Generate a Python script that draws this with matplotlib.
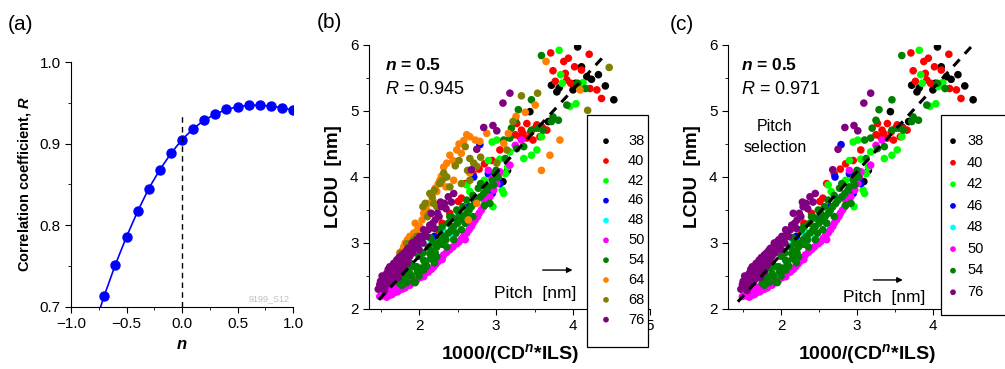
import numpy as np
import matplotlib
matplotlib.use('Agg')
from matplotlib import pyplot as plt
from matplotlib.ticker import MultipleLocator
from matplotlib.patches import Rectangle

plt.rcParams['font.family'] = ['Liberation Sans', 'DejaVu Sans']
plt.rcParams['mathtext.fontset'] = 'custom'
plt.rcParams['mathtext.rm'] = 'Liberation Sans:bold'
plt.rcParams['mathtext.it'] = 'Liberation Sans:italic:bold'
plt.rcParams['mathtext.bf'] = 'Liberation Sans:bold'
plt.rcParams['mathtext.cal'] = 'Liberation Sans:italic'

# ---- panel (a) data
n_vals = [-0.8, -0.7, -0.6, -0.5, -0.4, -0.3, -0.2, -0.1, 0.0, 0.1, 0.2, 0.3, 0.4, 0.5, 0.6, 0.7, 0.8, 0.9, 1.0]
r_vals = [0.672, 0.714, 0.752, 0.786, 0.817, 0.845, 0.868, 0.888, 0.905, 0.918, 0.929, 0.936, 0.942, 0.945, 0.947, 0.947, 0.946, 0.944, 0.941]

# ---- panel (b)/(c) data, per pitch
x38 = [4.06, 4.11, 4.18, 4.24, 4.33, 4.42, 4.53, 3.72, 3.79, 4.03, 3.44, 3.59, 3.68, 3.09, 2.95, 3.15, 4.00, 3.82]
y38 = [5.97, 5.67, 5.52, 5.48, 5.55, 5.38, 5.17, 5.39, 5.29, 5.42, 4.99, 4.76, 4.84, 3.93, 3.85, 4.10, 5.32, 5.35]

x40 = [3.71, 3.94, 3.88, 4.21, 4.02, 4.11, 3.74, 3.90, 3.92, 3.97, 3.77, 4.31, 4.37, 4.22,
       3.51, 3.27, 3.33, 3.40, 3.53, 3.61, 3.25, 3.31, 3.40, 3.48, 3.57, 3.66, 3.05, 3.35, 3.45,
       2.51, 2.55, 2.25, 2.70, 2.85, 2.95, 2.60, 2.78, 2.40, 2.30]
y40 = [5.88, 5.80, 5.75, 5.86, 5.67, 5.62, 5.61, 5.57, 5.47, 5.42, 5.45, 5.32, 5.19, 5.34,
       4.74, 4.81, 4.71, 4.81, 4.79, 4.74, 4.64, 4.61, 4.59, 4.56, 4.61, 4.71, 4.41, 4.66, 4.68,
       3.63, 3.68, 3.20, 4.05, 4.20, 4.25, 3.90, 4.12, 3.45, 3.30]

x42 = [3.82, 3.84, 3.86, 4.07, 4.04, 3.96, 4.13, 3.01, 3.53, 3.46, 3.59, 3.36, 3.18, 2.95, 2.96, 3.08,
       3.05, 3.15, 3.10, 2.62, 2.66, 2.30, 2.20, 3.12, 2.85, 2.90]
y42 = [5.92, 5.55, 5.42, 5.37, 5.11, 5.07, 5.43, 4.56, 4.41, 4.33, 4.61, 4.28, 4.38, 4.53, 3.55, 3.80,
       4.27, 4.15, 3.75, 3.88, 3.78, 3.20, 3.10, 4.05, 3.95, 4.25]

x46 = [2.79, 2.71, 2.65, 3.05, 2.90, 2.50, 2.95, 2.20]
y46 = [4.49, 4.00, 3.55, 3.90, 4.05, 3.35, 3.75, 3.10]

x48 = [2.00, 2.15, 2.45, 2.80, 2.30, 1.75, 2.60]
y48 = [2.90, 3.05, 3.10, 3.70, 3.15, 2.55, 3.30]

x50 = [1.49, 1.55, 1.62, 1.68, 1.75, 1.82, 1.88, 1.97, 2.06, 2.12, 2.19, 2.25, 2.32, 2.40, 2.49, 2.55,
       2.62, 2.68, 2.73, 2.78, 2.84, 2.92, 3.01, 2.95, 3.25, 3.18, 3.05, 3.33, 1.60, 1.70, 1.85, 2.00,
       2.30, 2.60, 1.52, 2.85, 2.90,
       1.53, 1.58, 1.65, 1.72, 1.78, 1.92, 2.02, 2.09, 2.16, 2.22, 2.28, 2.36, 2.44, 2.52, 2.58, 2.65,
       2.70, 2.76, 2.81, 2.88, 2.97, 3.03, 1.64, 1.57]
y50 = [2.19, 2.22, 2.21, 2.25, 2.29, 2.32, 2.36, 2.44, 2.49, 2.56, 2.64, 2.72, 2.82, 2.90, 2.99, 3.06,
       3.15, 3.25, 3.35, 3.45, 3.55, 3.70, 3.90, 3.98, 4.48, 4.18, 4.08, 4.56, 2.28, 2.33, 2.42, 2.55,
       2.75, 3.05, 2.30, 3.65, 4.10,
       2.20, 2.18, 2.22, 2.26, 2.30, 2.40, 2.48, 2.55, 2.60, 2.68, 2.78, 2.86, 2.94, 3.02, 3.10, 3.20,
       3.30, 3.40, 3.50, 3.62, 3.80, 4.00, 2.30, 2.25]

x54 = [3.59, 4.06, 4.16, 3.92, 3.46, 3.74, 3.72, 3.81, 3.29, 3.25, 3.20, 3.55, 3.61, 3.18, 3.10, 3.46,
       3.27, 3.36, 3.12, 2.99,
       1.75, 1.80, 1.88, 1.97, 2.06, 2.14, 2.23, 2.29, 2.38, 2.45, 2.53, 2.62, 2.68, 2.75, 2.84, 2.90,
       1.93, 2.06, 2.23, 2.36, 2.45, 1.93, 2.12, 2.27, 2.49, 2.62, 2.77, 1.85, 2.00, 2.18, 2.33, 2.55,
       2.70, 2.85, 2.92, 2.57, 2.40, 2.00, 2.10, 2.20, 1.82, 2.60, 2.95, 3.00, 2.80, 1.95,
       1.78, 1.84, 1.90, 1.98, 2.03, 2.08, 2.15, 2.17, 2.21, 2.25, 2.30, 2.35, 2.42, 2.48, 2.50, 2.58,
       2.65, 2.72, 2.80, 2.88, 2.05, 2.15, 2.30, 2.38, 2.52, 2.97, 3.02, 2.70, 2.44, 1.88]
y54 = [5.84, 5.42, 5.34, 5.09, 5.17, 4.91, 4.84, 4.86, 5.02, 4.86, 4.74, 4.74, 4.71, 4.59, 4.56, 4.71,
       4.43, 4.46, 4.28, 4.06,
       2.39, 2.44, 2.54, 2.64, 2.74, 2.84, 2.94, 3.05, 3.15, 3.25, 3.35, 3.45, 3.55, 3.65, 3.75, 3.85,
       2.41, 2.59, 2.79, 2.94, 3.05, 2.64, 2.94, 3.20, 3.50, 3.65, 3.83, 2.62, 2.80, 3.00, 3.10, 3.20,
       3.40, 3.57, 3.60, 3.55, 3.40, 2.50, 2.65, 2.70, 2.48, 3.30, 3.95, 4.10, 3.90, 2.40,
       2.36, 2.40, 2.50, 2.56, 2.62, 2.70, 2.76, 2.88, 2.85, 3.00, 2.98, 3.05, 3.20, 3.15, 3.30, 3.40,
       3.50, 3.60, 3.70, 3.80, 2.85, 3.08, 3.25, 3.30, 3.45, 3.88, 4.00, 3.72, 3.38, 2.70]

x64 = [3.65, 4.09, 3.51, 3.38, 3.26, 3.16, 3.83, 3.70, 3.59, 3.10,
       2.66, 2.73, 2.62, 2.79, 2.88, 2.49, 2.40, 2.55, 2.36, 2.29,
       2.25, 2.21, 2.16, 2.12, 2.06, 2.01, 1.93, 1.80, 2.66, 2.64, 2.75, 1.85, 1.95, 2.45, 2.35, 1.70, 1.75,
       1.82, 1.88, 1.98, 2.04, 2.10, 2.18, 2.23, 2.27, 2.32, 2.44, 2.52, 2.58, 1.78, 1.90]
y64 = [5.75, 5.32, 5.09, 4.98, 4.92, 4.66, 4.56, 4.33, 4.10, 4.51,
       4.61, 4.56, 4.64, 4.54, 4.66, 4.41, 4.33, 4.36, 4.21, 4.01,
       3.90, 3.83, 3.73, 3.60, 3.45, 3.25, 3.15, 2.94, 4.06, 3.35, 3.60, 3.05, 3.30, 3.95, 3.85, 2.70, 2.85,
       3.00, 3.10, 3.20, 3.35, 3.50, 3.65, 3.78, 3.95, 4.15, 4.25, 4.50, 4.55, 2.88, 2.92]

x68 = [4.47, 4.19, 3.54, 3.33, 3.22, 3.14, 3.01, 2.60, 2.66, 2.71, 2.47, 2.32, 2.75, 2.27, 2.40, 2.14,
       2.19, 2.08, 2.14, 1.93, 1.84, 2.01, 2.66, 1.72, 2.55, 2.20,
       1.76, 1.87, 1.97, 2.05, 2.11, 2.17, 2.23, 2.30, 2.36, 2.52, 2.63, 2.80]
y68 = [5.66, 5.01, 5.27, 5.23, 4.84, 4.41, 4.21, 4.46, 4.28, 4.21, 4.17, 4.06, 4.16, 3.90, 3.85, 3.75,
       3.60, 3.60, 3.45, 3.05, 2.99, 3.02, 3.95, 2.75, 3.90, 3.80,
       2.85, 2.95, 3.10, 3.55, 3.40, 3.70, 3.55, 3.95, 4.00, 4.25, 4.10, 4.30]

x76 = [2.84, 2.96, 3.01, 2.75, 2.68, 3.18, 3.09,
       1.54, 1.58, 1.62, 1.67, 1.71, 1.78, 1.84, 1.90, 1.95, 2.01, 2.08, 2.14, 2.21, 2.16, 2.29, 2.38,
       2.45, 1.56, 1.62, 1.71, 1.80, 1.49, 1.52, 1.60, 1.65, 1.68, 1.75, 1.75, 1.82, 1.88, 1.92, 1.98,
       2.05, 2.10, 2.20, 2.26, 2.33, 1.58, 1.66, 1.73, 1.85, 2.00, 1.55,
       1.47, 1.50, 1.53, 1.57, 1.60, 1.63, 1.64, 1.67, 1.70, 1.72, 1.74, 1.77, 1.79, 1.81, 1.83, 1.86,
       1.89, 1.91, 1.94, 1.97, 2.03, 2.06, 2.12, 2.18, 2.24, 2.28, 2.35, 2.42, 1.69, 1.78]
y76 = [4.75, 4.78, 4.70, 4.42, 4.11, 5.27, 5.12,
       2.44, 2.54, 2.64, 2.69, 2.74, 2.82, 2.89, 2.94, 3.02, 3.10, 3.15, 3.27, 3.35, 3.45, 3.55, 3.70,
       3.75, 2.34, 2.44, 2.54, 2.64, 2.37, 2.50, 2.60, 2.50, 2.62, 2.60, 2.70, 2.75, 2.80, 2.85, 2.95,
       3.00, 3.10, 3.22, 3.40, 3.60, 2.40, 2.45, 2.48, 2.70, 2.90, 2.28,
       2.30, 2.42, 2.35, 2.47, 2.52, 2.40, 2.56, 2.58, 2.65, 2.60, 2.78, 2.68, 2.75, 2.85, 2.78, 2.92,
       2.85, 3.00, 2.92, 3.05, 3.05, 3.20, 3.20, 3.30, 3.45, 3.62, 3.52, 3.62, 2.52, 2.56]

series_b = [('38', x38, y38, 'black'), ('40', x40, y40, '#ff0000'), ('42', x42, y42, '#00ff00'),
            ('46', x46, y46, '#0000ff'), ('48', x48, y48, '#00ffff'), ('50', x50, y50, '#ff00ff'),
            ('54', x54, y54, '#008000'), ('64', x64, y64, '#ff8000'), ('68', x68, y68, '#808000'),
            ('76', x76, y76, '#800080')]
series_c = [s for s in series_b if s[0] not in ('64', '68')]

fig = plt.figure(figsize=(10.05, 3.69), dpi=100)
W, H = 1005.0, 369.0


def add_ax(l, r, b, t):
    return fig.add_axes([l / W, 1 - b / H, (r - l) / W, (b - t) / H])


def style(ax):
    for s in ['top', 'right']:
        ax.spines[s].set_visible(False)
    ax.tick_params(which='both', direction='out', labelsize=11)
    ax.tick_params(which='major', length=4)
    ax.tick_params(which='minor', length=2.5)


# ---- (a)
ax = add_ax(71, 293, 307, 62)
style(ax)
ax.plot(n_vals, r_vals, '-o', color='#0000ff', lw=1.2, ms=6.5)
ax.plot([0, 0], [0.7, 0.937], color='black', lw=1, dashes=(4, 3))
ax.set_xlim(-1, 1)
ax.set_ylim(0.7, 1.0)
ax.xaxis.set_minor_locator(MultipleLocator(0.25))
ax.yaxis.set_major_locator(MultipleLocator(0.1))
ax.yaxis.set_minor_locator(MultipleLocator(0.05))
ax.yaxis.set_major_formatter(matplotlib.ticker.FormatStrFormatter('%.1f'))
ax.set_xticks([-1, -0.5, 0, 0.5, 1])
ax.set_xticklabels(['\u22121.0', '\u22120.5', '0.0', '0.5', '1.0'])
ax.set_xlabel('$n$', fontsize=12, fontweight='bold', labelpad=4)
ax.set_ylabel('Correlation coefficient, $R$', fontsize=10.5, fontweight='bold', labelpad=5)
ax.text(0.97, 0.71, '9199_S12', fontsize=6.5, color='#c0c0c0', ha='right', va='center')
fig.text(8 / W, 1 - 24 / H, '(a)', fontsize=15, va='center', ha='left')


def scatter_panel(ax, series, xlim, rtext, fit, arrow, ptxt, box, mk_x, txt_x, lsp):
    style(ax)
    for lab, xs, ys, col in series:
        ax.scatter(xs, ys, s=30, color=col, edgecolors='none', label=lab, zorder=2)
    ax.plot(fit[0], fit[1], color='black', lw=2.2, dashes=(3, 2.5), zorder=3)
    ax.set_xlim(*xlim)
    ax.set_ylim(2, 6)
    ax.xaxis.set_major_locator(MultipleLocator(1))
    ax.xaxis.set_minor_locator(MultipleLocator(0.5))
    ax.yaxis.set_major_locator(MultipleLocator(1))
    ax.yaxis.set_minor_locator(MultipleLocator(0.5))
    ax.set_xlabel('1000/(CD$^{n}$*ILS)', fontsize=14, fontweight='bold', labelpad=6)
    ax.set_ylabel('LCDU  [nm]', fontsize=13.5, fontweight='bold', labelpad=6)
    ax.text(rtext[0], 5.70, '$n$ = 0.5', fontsize=12.5, fontweight='bold', va='center')
    ax.text(rtext[0], 5.32, r'$\mathcal{R}$ = ' + rtext[1], fontsize=13, va='center')
    ax.annotate('', xy=(arrow[1], arrow[2]), xytext=(arrow[0], arrow[2]),
                arrowprops=dict(arrowstyle='-|>', color='black', lw=1, mutation_scale=8))
    ax.text(ptxt[0], ptxt[1], 'Pitch  [nm]', fontsize=12.5, ha='center', va='center')
    # legend box drawn as its own rectangle, entries placed inside
    rect = Rectangle((box[0] / W, 1 - box[3] / H), (box[1] - box[0]) / W, (box[3] - box[2]) / H,
                     transform=fig.transFigure, facecolor='white', edgecolor='black', lw=0.9,
                     zorder=4)
    fig.patches.append(rect)
    fs = 10.5 * 100 / 72.0
    hl = 0.8
    leg = fig.legend(*ax.get_legend_handles_labels(), loc='upper left',
                     bbox_to_anchor=((mk_x - hl * fs / 2) / W, 1 - (box[2] + 19) / H),
                     frameon=False, fontsize=10.5, markerscale=0.75, handlelength=hl,
                     handletextpad=(txt_x - mk_x - hl * fs / 2) / fs, labelspacing=lsp,
                     borderpad=0, borderaxespad=0)
    leg.set_zorder(5)


axb = add_ax(369, 650, 309, 45)
scatter_panel(axb, series_b, (1.35, 5.0), (1.56, '0.945'),
              ([1.48, 4.44], [2.14, 5.88]), (3.57, 4.03, 2.59), (3.51, 2.24),
              (587, 648, 115, 347), 606, 628, 0.40)
fig.text(317 / W, 1 - 22 / H, '(b)', fontsize=15, va='center', ha='left')

axc = add_ax(728, 1005, 309, 45)
scatter_panel(axc, series_c, (1.30, 4.95), (1.47, '0.971'),
              ([1.43, 4.51], [2.11, 5.98]), (3.18, 3.64, 2.44), (3.36, 2.18),
              (941, 1010, 115, 315), 953, 967, 0.52)
axc.text(1.92, 4.61, 'Pitch\nselection', fontsize=11.5, ha='center', va='center', linespacing=1.5)
fig.text(670 / W, 1 - 24 / H, '(c)', fontsize=15, va='center', ha='left')

fig.savefig('out.png', dpi=100)
